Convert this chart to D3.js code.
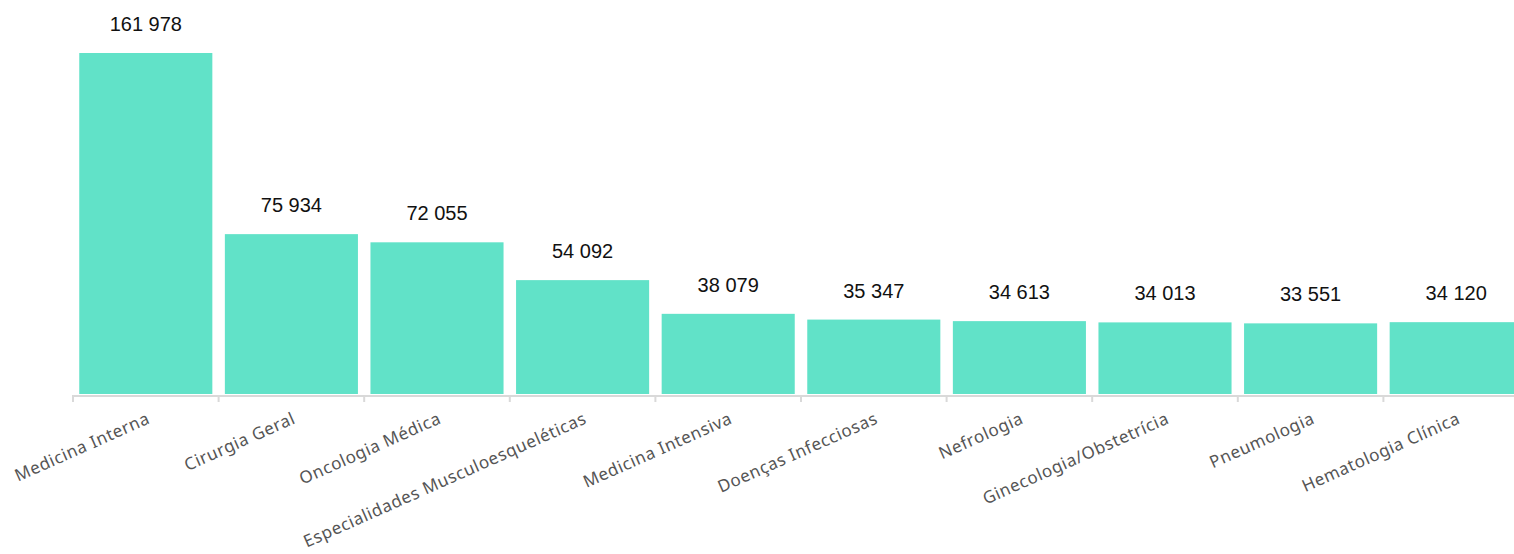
<!DOCTYPE html>
<html>
<head>
<meta charset="utf-8">
<script src="https://cdn.jsdelivr.net/npm/d3@7"></script>
<style>
  html, body { margin: 0; padding: 0; background: #ffffff; }
  svg { display: block; }
</style>
</head>
<body>
<svg id="chart" width="1514" height="554"></svg>
<script>
const categories = [
  "Medicina Interna", "Cirurgia Geral", "Oncologia Médica",
  "Especialidades Musculoesqueléticas", "Medicina Intensiva",
  "Doenças Infecciosas", "Nefrologia", "Ginecologia/Obstetrícia",
  "Pneumologia", "Hematologia Clínica"
];
const values = [161978, 75934, 72055, 54092, 38079, 35347, 34613, 34013, 33551, 34120];
const valueLabels = ["161 978", "75 934", "72 055", "54 092", "38 079", "35 347", "34 613", "34 013", "33 551", "34 120"];

const svg = d3.select("#chart");
const baseY = 395;
const x = d3.scaleBand()
  .domain(categories)
  .range([73, 73 + 145.6 * categories.length])
  .paddingInner(0.086)
  .paddingOuter(0.043);
const y = d3.scaleLinear()
  .domain([0, 161978])
  .range([baseY - 1, 53]);

// bars
svg.append("g").selectAll("rect")
  .data(categories)
  .join("rect")
  .attr("x", d => x(d))
  .attr("width", x.bandwidth())
  .attr("y", (d, i) => y(values[i]))
  .attr("height", (d, i) => y(0) - y(values[i]))
  .attr("fill", "#61e2c8");

// axis line + ticks at band boundaries
const axis = svg.append("g");
const step = x.step();
const x0 = x.range()[0];
axis.append("line")
  .attr("x1", x0).attr("x2", 1514)
  .attr("y1", baseY + 1).attr("y2", baseY + 1)
  .attr("stroke", "#d9d9d9").attr("stroke-width", 2);
axis.selectAll("line.tick")
  .data(d3.range(categories.length + 1))
  .join("line")
  .attr("class", "tick")
  .attr("x1", i => x0 + i * step).attr("x2", i => x0 + i * step)
  .attr("y1", baseY).attr("y2", baseY + 7)
  .attr("stroke", "#d9d9d9").attr("stroke-width", 2);

// value labels
svg.append("g").selectAll("text")
  .data(categories)
  .join("text")
  .attr("x", d => x(d) + x.bandwidth() / 2)
  .attr("y", (d, i) => y(values[i]) - 22)
  .attr("text-anchor", "middle")
  .attr("font-family", "'Liberation Sans', Arial, sans-serif")
  .attr("font-size", 20)
  .attr("fill", "#111111")
  .text((d, i) => valueLabels[i]);

// category labels
svg.append("g").selectAll("text")
  .data(categories)
  .join("text")
  .attr("transform", d => `translate(${x0 + categories.indexOf(d) * step + step / 2}, ${baseY + 16}) rotate(-24)`)
  .attr("text-anchor", "end")
  .attr("dy", "0.75em")
  .attr("font-family", "'Noto Sans', 'Open Sans', sans-serif")
  .attr("font-size", 17)
  .attr("letter-spacing", "0.6px")
  .attr("fill", "#555555")
  .text(d => d);
</script>
</body>
</html>
